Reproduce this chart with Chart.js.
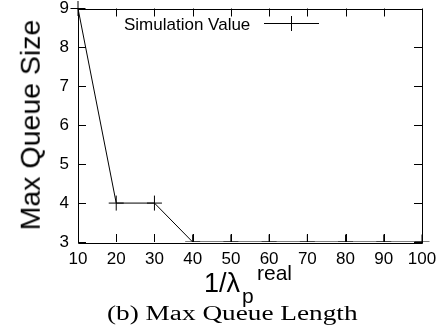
<!DOCTYPE html>
<html>
<head>
<meta charset="utf-8">
<script src="https://cdn.jsdelivr.net/npm/chart.js@4/dist/chart.umd.min.js"></script>
<style>
  html, body { margin: 0; padding: 0; background: #fff; }
  #wrap { position: relative; width: 442px; height: 333px; overflow: hidden; background: #fff; }
  #c { position: absolute; left: 0; top: 0; }
  .t { position: absolute; white-space: nowrap; color: #000; font-family: "Liberation Sans", Arial, sans-serif; }
</style>
</head>
<body>
<div id="wrap">
  <canvas id="c" width="442" height="333"></canvas>
  <div class="t" id="ytitle" style="font-size:28.5px; line-height:28.5px; left:30px; top:125px; transform:translate(-50%,-50%) rotate(-90deg);">Max Queue Size</div>
  <div class="t" style="font-size:27px; line-height:27px; left:204px; top:270px;">1/λ</div>
  <div class="t" style="font-size:21px; line-height:21px; left:242px; top:285px;">p</div>
  <div class="t" style="font-size:21px; line-height:21px; left:257px; top:262px;">real</div>
  <div class="t" id="legendText" style="font-size:17px; line-height:17px; left:124px; top:16px;">Simulation Value</div>
  <div class="t" id="caption" style="font-family:'Liberation Serif','DejaVu Serif',serif; font-size:20.5px; line-height:20.5px; left:107px; top:303px; transform-origin:0 0;">(b) Max Queue Length</div>
</div>
<script>
// ---- data ----
const xValues = [10, 20, 30, 40, 50, 60, 70, 80, 90, 100];
const maxQueueSize = [9, 4, 4, 3, 3, 3, 3, 3, 3, 3];
const seriesLabel = "Simulation Value";
const xTicks = [10, 20, 30, 40, 50, 60, 70, 80, 90, 100];
const yTicks = [3, 4, 5, 6, 7, 8, 9];

// fit caption width to the reference
(function () {
  const cap = document.getElementById('caption');
  const w = cap.offsetWidth;
  cap.style.transform = 'scaleX(' + (250 / w) + ')';
})();

const frame = {
  id: 'gnuplotFrame',
  afterDatasetsDraw(chart) {
    const ctx = chart.ctx;
    const a = chart.chartArea;
    const xs = chart.scales.x, ys = chart.scales.y;
    const tl = 8;
    ctx.save();
    ctx.strokeStyle = '#000';
    ctx.lineWidth = 1;
    ctx.beginPath();
    ctx.rect(Math.round(a.left) + 0.5, Math.round(a.top) + 0.5, Math.round(a.right - a.left), Math.round(a.bottom - a.top));
    xTicks.forEach(v => {
      const p = Math.round(xs.getPixelForValue(v)) + 0.5;
      ctx.moveTo(p, a.bottom); ctx.lineTo(p, a.bottom - tl);
      ctx.moveTo(p, a.top); ctx.lineTo(p, a.top + tl);
    });
    yTicks.forEach(v => {
      const p = Math.round(ys.getPixelForValue(v)) + 0.5;
      ctx.moveTo(a.left, p); ctx.lineTo(a.left + tl, p);
      ctx.moveTo(a.right, p); ctx.lineTo(a.right - tl, p);
    });
    ctx.stroke();
    // legend sample
    const ly = 23.5;
    ctx.beginPath();
    ctx.moveTo(264, ly); ctx.lineTo(319, ly);
    ctx.moveTo(291.5, ly - 7.5); ctx.lineTo(291.5, ly + 7.5);
    ctx.stroke();
    ctx.restore();
  }
};

new Chart(document.getElementById('c'), {
  type: 'line',
  data: {
    datasets: [{
      label: seriesLabel,
      data: xValues.map((x, i) => ({ x: x, y: maxQueueSize[i] })),
      borderColor: '#000',
      backgroundColor: '#000',
      borderWidth: 1,
      pointStyle: 'cross',
      pointRadius: 7.5,
      pointBorderWidth: 1,
      pointBorderColor: '#000',
      tension: 0,
      fill: false,
      clip: { left: 10, top: 10, right: 10, bottom: 0 }
    }]
  },
  plugins: [frame],
  options: {
    responsive: false,
    animation: false,
    events: [],
    layout: { padding: { top: 6, right: 20, bottom: 0, left: 0 } },
    plugins: { legend: { display: false }, tooltip: { enabled: false } },
    scales: {
      x: {
        type: 'linear', min: 10, max: 100,
        afterBuildTicks: s => { s.ticks = xTicks.map(v => ({ value: v })); },
        ticks: { color: '#000', font: { family: 'Liberation Sans', size: 17 }, padding: 7, maxRotation: 0, autoSkip: false },
        grid: { display: false, drawTicks: false },
        border: { display: false },
        afterFit: s => { s.height = 91; s.paddingLeft = 0; s.paddingRight = 0; }
      },
      y: {
        type: 'linear', min: 3, max: 9,
        afterBuildTicks: s => { s.ticks = yTicks.map(v => ({ value: v })); },
        ticks: { color: '#000', font: { family: 'Liberation Sans', size: 17 }, padding: 9 },
        grid: { display: false, drawTicks: false },
        border: { display: false },
        afterFit: s => { s.width = 78; s.paddingTop = 0; s.paddingBottom = 0; }
      }
    }
  }
});
</script>
</body>
</html>
